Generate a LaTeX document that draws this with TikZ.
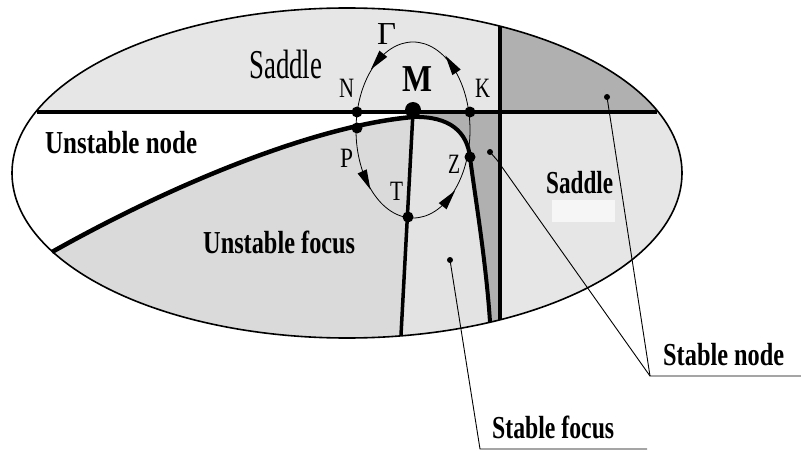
\documentclass[tikz,border=0pt]{standalone}
\usepackage{fontspec}
\setmainfont{Liberation Serif}
\usepackage{graphicx}
\newcommand\sqz[2]{\resizebox{#1}{\height}{#2}}
\definecolor{lightg}{HTML}{E6E6E6}
\definecolor{focusg}{HTML}{DADADA}
\definecolor{sfocusg}{HTML}{E3E3E3}
\definecolor{darkg}{HTML}{B0B0B0}
\definecolor{patchg}{HTML}{F6F6F6}
\begin{document}
\begin{tikzpicture}[x=1pt,y=-1pt,
  sepline/.style={line width=4.5pt},
  outline/.style={line width=1.6pt},
  orbit/.style={line width=0.8pt},
  pointer/.style={line width=0.9pt},
  arrowhead/.style={fill=black},
  dot/.style={circle,fill=black,inner sep=0pt,minimum size=11pt},
  smalldot/.style={circle,fill=black,inner sep=0pt,minimum size=6pt},
  lbl/.style={anchor=base west,inner sep=0pt,font=\fontsize{28}{28}\selectfont},
  blbl/.style={anchor=base west,inner sep=0pt,font=\fontsize{32}{32}\selectfont\bfseries}]
\useasboundingbox (0,0) rectangle (801,452);

% named points
\coordinate (C) at (347,173);
\coordinate (E0) at (413,130);
\coordinate (Ms) at (413,117);
\coordinate (Mt) at (413,112);
\coordinate (Sstart) at (52,252);
\coordinate (Tend) at (401,335);
\coordinate (Rend) at (490,322);
\coordinate (Hl) at (37,112);
\coordinate (Hr) at (657,112);
\coordinate (Vt) at (500,26);
\coordinate (Vb) at (500,320);

% regions
\begin{scope}
\clip (C) ellipse [x radius=335, y radius=165];
\fill[lightg] (0,0) rectangle (801,452);
\fill[darkg] (500,0) rectangle (801,112);
\fill[focusg] (0,281) -- (Sstart) .. controls (180,180) and (320,125) .. (Ms) -- (Mt) -- (397.5,400) -- (0,400) -- cycle;
\fill[white] (0,112) -- (Mt) -- (Ms) .. controls (320,125) and (180,180) .. (Sstart) -- (0,281) -- cycle;
\fill[sfocusg] (Ms) .. controls (450,116) and (467,132) .. (470,157) .. controls (474,190) and (486,260) .. (Rend) -- (491.5,400) -- (397.5,400) -- (Mt) -- cycle;
\fill[darkg] (Mt) -- (500,112) -- (500,400) -- (491.5,400) -- (Rend) .. controls (486,260) and (474,190) .. (470,157) .. controls (467,132) and (450,116) .. (Ms) -- cycle;
\fill[patchg] (552,200) rectangle (615,222);
\end{scope}

% outline and separatrices
\draw[outline] (C) ellipse [x radius=335, y radius=165];
\draw[sepline] (Hl) -- (Hr);
\draw[line width=4pt] (Vt) -- (Vb);
\draw[sepline] (Sstart) .. controls (180,180) and (320,125) .. (Ms);
\draw[line width=4pt] (Ms) .. controls (450,116) and (467,132) .. (470,157) .. controls (474,190) and (486,260) .. (Rend);
\draw[line width=3.5pt] (Mt) -- (Tend);

% closed orbit with arrows
\draw[orbit] (E0) ellipse [x radius=57, y radius=88];
\fill[arrowhead] (370.89,69.44) -- (379.39,50.66) -- (387.23,56.87) -- cycle;
\fill[arrowhead] (445.45,55.68) -- (460.71,69.55) -- (452.39,75.10) -- cycle;
\fill[arrowhead] (370.43,189.60) -- (357.62,173.47) -- (366.72,169.34) -- cycle;
\fill[arrowhead] (455.15,190.59) -- (446.56,209.34) -- (438.74,203.09) -- cycle;

% points
\node[dot] (N) at (357,112) {};
\node[dot] (P) at (357,128) {};
\node[dot] (K) at (470,112) {};
\node[dot] (Z) at (470,157) {};
\node[dot] (T) at (408,217) {};
\node[dot,minimum size=16pt] (M) at (413,110) {};

% pointer lines
\node[smalldot] (pSN1) at (607,97) {};
\node[smalldot] (pSN2) at (490,152) {};
\node[smalldot] (pSF) at (450,260) {};
\coordinate (bSN) at (497,160);
\coordinate (jSN) at (650,376);
\coordinate (eSN) at (801,376);
\coordinate (jSF) at (480,449);
\coordinate (eSF) at (647,449);
\draw[pointer] (pSN2.center) -- (bSN) -- (jSN);
\draw[pointer] (pSN1.center) -- (jSN) -- (eSN);
\draw[pointer] (pSF.center) -- (jSF) -- (eSF);

% letters
\node[lbl] (lN) at (339,97) {\sqz{15pt}{N}};
\node[lbl] (lK) at (475,97) {\sqz{15pt}{K}};
\node[lbl] (lP) at (340,167) {\sqz{13pt}{P}};
\node[lbl] (lT) at (390,200) {\sqz{13pt}{T}};
\node[lbl] (lZ) at (448,173) {\sqz{12pt}{Z}};
\node[lbl,font=\fontsize{32}{32}\selectfont] (lG) at (377,45) {\sqz{19pt}{Γ}};
\node[anchor=base west,inner sep=0pt,font=\fontsize{38}{38}\selectfont\bfseries] (lM) at (402,92) {\sqz{30pt}{M}};

% region labels
\node[anchor=base west,inner sep=0pt,font=\fontsize{41}{41}\selectfont] (saddleTop) at (249,79) {\sqz{73pt}{Saddle}};
\node[blbl] (unode) at (45,153) {\sqz{152pt}{Unstable node}};
\node[blbl] (ufocus) at (203,253) {\sqz{152pt}{Unstable focus}};
\node[blbl] (saddleR) at (546,193) {\sqz{67pt}{Saddle}};
\node[blbl] (snode) at (663,365) {\sqz{121pt}{Stable node}};
\node[blbl] (sfocus) at (492,438) {\sqz{122pt}{Stable focus}};
\end{tikzpicture}
\end{document}
